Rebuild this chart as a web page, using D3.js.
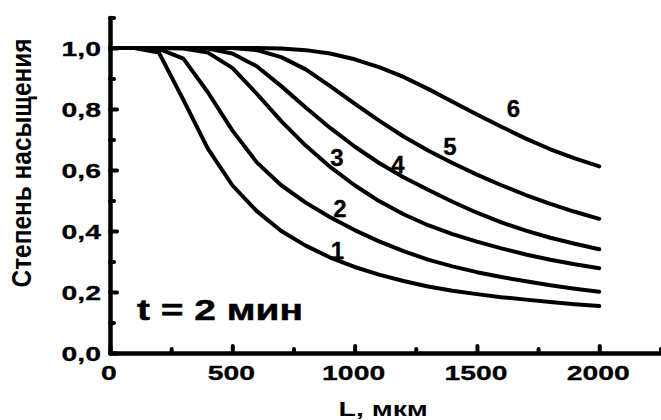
<!DOCTYPE html>
<html>
<head>
<meta charset="utf-8">
<script src="https://cdn.jsdelivr.net/npm/d3@7"></script>
<style>
  html, body { margin: 0; padding: 0; background: #fff; }
  svg { display: block; }
  text { font-family: "Liberation Sans", Arial, sans-serif; font-weight: bold; fill: #000; }
</style>
</head>
<body>
<svg id="chart" width="661" height="420"></svg>
<script>
// ---- data ----
const L = [0,100,200,300,400,500,600,700,800,900,1000,1100,1200,1300,1400,1500,1600,1700,1800,1900,2000];
const s1 = [1,1,0.985,0.83,0.67,0.55,0.465,0.40,0.352,0.313,0.282,0.257,0.236,0.218,0.204,0.193,0.183,0.175,0.167,0.16,0.154];
const s2 = [1,1,0.997,0.965,0.855,0.73,0.625,0.55,0.493,0.445,0.403,0.366,0.334,0.306,0.284,0.265,0.249,0.235,0.222,0.211,0.201];
const s3 = [1,1,1,0.998,0.985,0.935,0.85,0.76,0.68,0.61,0.55,0.498,0.455,0.419,0.39,0.365,0.343,0.323,0.306,0.291,0.278];
const s4 = [1,1,1,1,0.998,0.982,0.94,0.875,0.805,0.738,0.677,0.623,0.576,0.535,0.496,0.46,0.428,0.401,0.378,0.358,0.34];
const s5 = [1,1,1,1,1,1,0.993,0.97,0.93,0.875,0.818,0.762,0.71,0.664,0.623,0.585,0.55,0.518,0.489,0.463,0.44];
const s6 = [1,1,1,1,1,1,1,0.998,0.993,0.982,0.963,0.937,0.905,0.866,0.824,0.782,0.742,0.703,0.668,0.638,0.612];
const seriesNames = ["1","2","3","4","5","6"];
const seriesValues = [s1,s2,s3,s4,s5,s6];
// curve label anchors in data units [L, value]
const labelAt = [[930,0.338],[940,0.474],[928,0.641],[1177,0.620],[1390,0.676],[1649,0.802]];
const xTicks = [0,500,1000,1500,2000];
const xMinor = [250,750,1250,1750,2250];
const yTicks = [0,0.2,0.4,0.6,0.8,1.0];
const yMinor = [0.1,0.3,0.5,0.7,0.9,1.1];
const yTickLabels = ["0,0","0,2","0,4","0,6","0,8","1,0"];
const xTitle = "L, мкм";
const yTitle = "Степень насыщения";
const note = "t = 2 мин";

// ---- drawing ----
const svg = d3.select("#chart");
const x = d3.scaleLinear().domain([0,2250]).range([110, 660.4]);
const y = d3.scaleLinear().domain([0,1.1]).range([353, 17.5]);

const line = d3.line().x(d => x(d[0])).y(d => y(d[1])).curve(d3.curveLinear);
svg.append("g").selectAll("path")
  .data(seriesValues)
  .join("path")
  .attr("d", v => line(L.map((l,i) => [l, v[i]])))
  .attr("fill","none").attr("stroke","#000")
  .attr("stroke-width",4).attr("stroke-linejoin","round").attr("stroke-linecap","round");

function styleAxis(g){
  g.select(".domain").attr("stroke","#000").attr("stroke-width",4.5).attr("stroke-linecap","round");
  g.selectAll(".tick line").attr("stroke","#000").attr("stroke-width",4).attr("stroke-linecap","round");
}

// minor ticks
svg.append("g").attr("transform",`translate(0,${y(0)})`)
  .call(d3.axisBottom(x).tickValues(xMinor).tickSize(-4).tickFormat(""))
  .call(g => { g.select(".domain").remove(); styleAxis(g); });
svg.append("g").attr("transform",`translate(${x(0)},0)`)
  .call(d3.axisLeft(y).tickValues(yMinor).tickSize(-4).tickFormat(""))
  .call(g => { g.select(".domain").remove(); styleAxis(g); });

// major axes
const SX = 1.35;
svg.append("g").attr("transform",`translate(0,${y(0)})`)
  .call(d3.axisBottom(x).tickValues(xTicks).tickSize(-7).tickSizeOuter(0).tickFormat(d3.format("d")))
  .call(styleAxis)
  .call(g => g.selectAll(".tick text")
    .attr("font-size",21).attr("font-family",null).attr("fill","#000")
    .attr("y",27).attr("dy",0).attr("x",-1.5/SX)
    .attr("stroke","#000").attr("stroke-width",0.3)
    .attr("transform",`scale(${SX},1)`));

svg.append("g").attr("transform",`translate(${x(0)},0)`)
  .call(d3.axisLeft(y).tickValues(yTicks).tickSize(-7).tickSizeOuter(0).tickFormat((d,i) => yTickLabels[i]))
  .call(styleAxis)
  .call(g => g.selectAll(".tick text")
    .attr("font-size",21).attr("font-family",null).attr("fill","#000")
    .attr("x",-9/SX).attr("dy","0.36em")
    .attr("stroke","#000").attr("stroke-width",0.3)
    .attr("transform",`scale(${SX},1)`));

// curve labels
svg.append("g").selectAll("text")
  .data(seriesNames)
  .join("text")
  .attr("x",(d,i) => x(labelAt[i][0]))
  .attr("y",(d,i) => y(labelAt[i][1]))
  .attr("dy","0.36em")
  .attr("text-anchor","middle")
  .attr("font-size",24)
  .attr("stroke","#000").attr("stroke-width",0.3)
  .text(d => d);

// note
svg.append("text")
  .attr("x",x(110)).attr("y",y(0.108))
  .attr("font-size",30)
  .attr("stroke","#000").attr("stroke-width",0.5)
  .attr("textLength",166).attr("lengthAdjust","spacingAndGlyphs")
  .text(note);

// axis titles
svg.append("g").attr("transform",`translate(${(x(0)+x(2250))/2 - 2},416) scale(1.35,1)`)
  .append("text").attr("text-anchor","middle").attr("font-size",21).text(xTitle);

svg.append("g").attr("transform",`translate(31,163) scale(1.12,1) rotate(-90)`)
  .append("text").attr("text-anchor","middle").attr("font-size",25)
  .attr("textLength",249).attr("lengthAdjust","spacingAndGlyphs")
  .text(yTitle);
</script>
</body>
</html>
